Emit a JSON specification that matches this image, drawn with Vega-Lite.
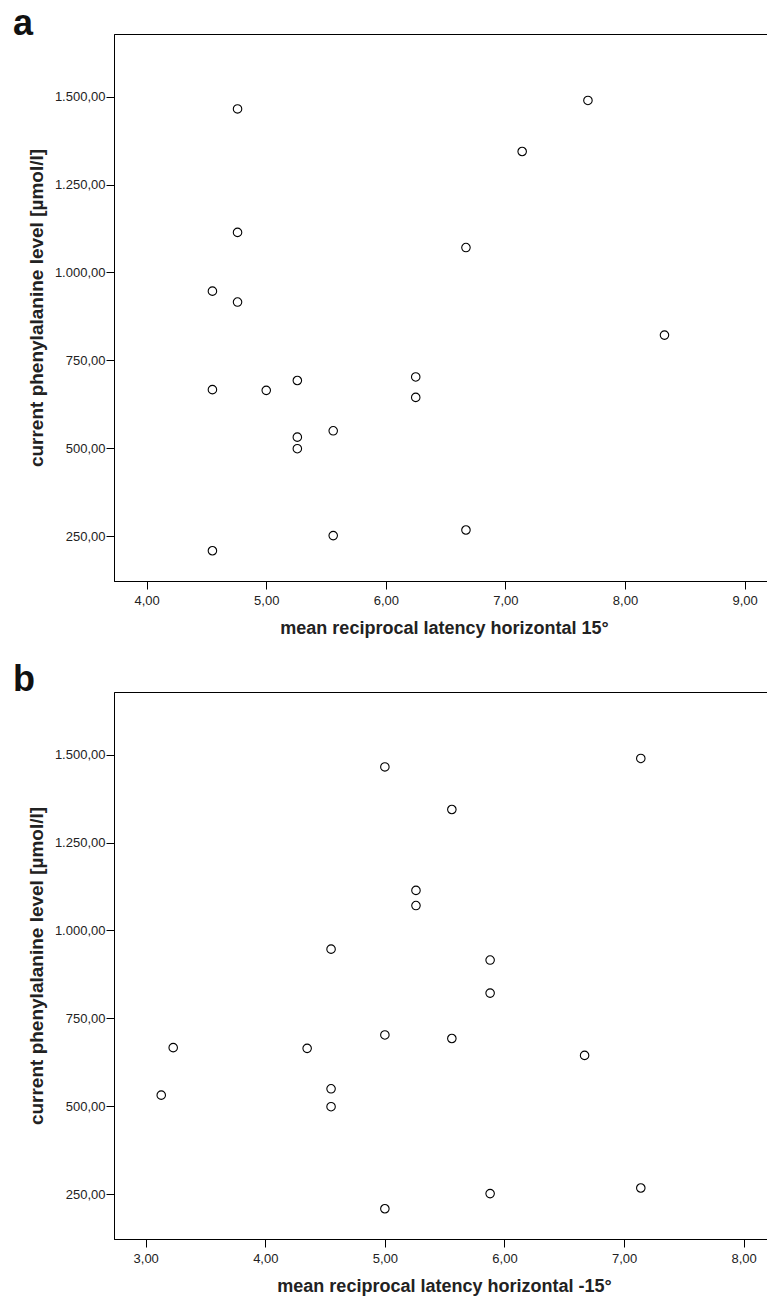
{
  "$schema": "https://vega.github.io/schema/vega-lite/v6.json",
  "padding": {"left": 12, "top": 5, "right": 0, "bottom": 0},
  "background": "white",
  "data": {"values": [
    {"phe": 1465, "h15": 4.76, "hm15": 5.00},
    {"phe": 1489, "h15": 7.69, "hm15": 7.14},
    {"phe": 1344, "h15": 7.14, "hm15": 5.56},
    {"phe": 1114, "h15": 4.76, "hm15": 5.26},
    {"phe": 1071, "h15": 6.67, "hm15": 5.26},
    {"phe": 947, "h15": 4.55, "hm15": 4.55},
    {"phe": 916, "h15": 4.76, "hm15": 5.88},
    {"phe": 822, "h15": 8.33, "hm15": 5.88},
    {"phe": 703, "h15": 6.25, "hm15": 5.00},
    {"phe": 693, "h15": 5.26, "hm15": 5.56},
    {"phe": 667, "h15": 4.55, "hm15": 3.23},
    {"phe": 665, "h15": 5.00, "hm15": 4.35},
    {"phe": 645, "h15": 6.25, "hm15": 6.67},
    {"phe": 550, "h15": 5.56, "hm15": 4.55},
    {"phe": 532, "h15": 5.26, "hm15": 3.13},
    {"phe": 499, "h15": 5.26, "hm15": 4.55},
    {"phe": 268, "h15": 6.67, "hm15": 7.14},
    {"phe": 252, "h15": 5.56, "hm15": 5.88},
    {"phe": 209, "h15": 4.55, "hm15": 5.00}
  ]},
  "bounds": "flush",
  "spacing": 111,
  "vconcat": [
    {
      "width": 655,
      "height": 547,
      "title": {"text": "a", "offset": 0, "dy": 9},
      "mark": {"type": "point", "shape": "circle", "filled": false, "size": 72, "stroke": "black", "strokeWidth": 1.1, "opacity": 1},
      "encoding": {
        "x": {"field": "h15", "type": "quantitative",
          "scale": {"domain": [3.727, 9.204], "nice": false, "zero": false},
          "axis": {"values": [4, 5, 6, 7, 8, 9], "title": "mean reciprocal latency horizontal 15°",
            "labelExpr": "replace(format(datum.value, '.2f'), '.', ',')",
            "labelPadding": 5, "titleX": 330, "titleY": 52.5, "titleAlign": "center", "titleBaseline": "alphabetic"}},
        "y": {"field": "phe", "type": "quantitative",
          "scale": {"domain": [123, 1678], "nice": false, "zero": false},
          "axis": {"values": [250, 500, 750, 1000, 1250, 1500], "title": "current phenylalanine level [µmol/l]",
            "labelExpr": "replace(replace(replace(format(datum.value, ',.2f'), ',', 'T'), '.', ','), 'T', '.')",
            "labelPadding": 1, "titleX": -78, "titleBaseline": "middle", "titleFontSize": 19}}
      }
    },
    {
      "width": 655,
      "height": 547,
      "title": {"text": "b", "offset": 0, "dy": 7},
      "mark": {"type": "point", "shape": "circle", "filled": false, "size": 72, "stroke": "black", "strokeWidth": 1.1, "opacity": 1},
      "encoding": {
        "x": {"field": "hm15", "type": "quantitative",
          "scale": {"domain": [2.735, 8.212], "nice": false, "zero": false},
          "axis": {"values": [3, 4, 5, 6, 7, 8], "title": "mean reciprocal latency horizontal -15°",
            "labelExpr": "replace(format(datum.value, '.2f'), '.', ',')",
            "labelPadding": 5, "titleX": 330, "titleY": 52.5, "titleAlign": "center", "titleBaseline": "alphabetic"}},
        "y": {"field": "phe", "type": "quantitative",
          "scale": {"domain": [123, 1678], "nice": false, "zero": false},
          "axis": {"values": [250, 500, 750, 1000, 1250, 1500], "title": "current phenylalanine level [µmol/l]",
            "labelExpr": "replace(replace(replace(format(datum.value, ',.2f'), ',', 'T'), '.', ','), 'T', '.')",
            "labelPadding": 1, "titleX": -78, "titleBaseline": "middle", "titleFontSize": 19}}
      }
    }
  ],
  "config": {
    "view": {"stroke": "black", "strokeWidth": 1},
    "axis": {"domainColor": "black", "domainWidth": 1, "tickColor": "black", "tickSize": 8, "tickWidth": 1, "grid": false,
      "labelFont": "Liberation Sans", "labelFontSize": 13, "labelColor": "#222",
      "titleFont": "Liberation Sans", "titleFontSize": 18, "titleFontWeight": "bold", "titleColor": "#222"},
    "title": {"font": "Liberation Sans", "fontSize": 36, "fontWeight": "bold", "anchor": "start", "frame": "group", "baseline": "alphabetic", "offset": 0, "dx": -101, "color": "#111"}
  }
}
